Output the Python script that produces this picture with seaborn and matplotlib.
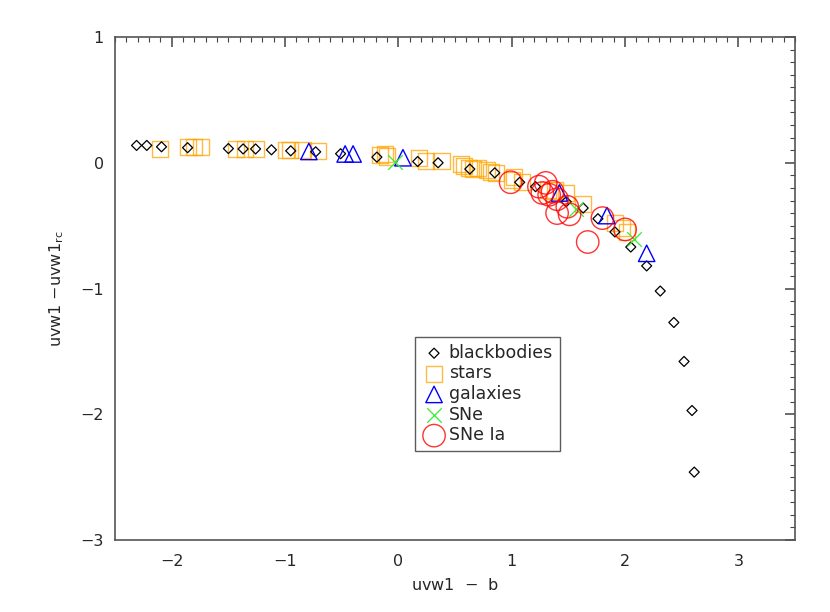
import numpy as np
import pandas as pd
import seaborn as sns
import matplotlib.pyplot as plt
from matplotlib.ticker import MultipleLocator

# Colour-colour data
bb_x = [-2.31, -2.22, -2.09, -1.86, -1.50, -1.37, -1.26, -1.12, -0.95, -0.73,
        -0.51, -0.19, 0.17, 0.35, 0.63, 0.85, 1.07, 1.21, 1.48, 1.63,
        1.76, 1.91, 2.05, 2.19, 2.31, 2.43, 2.52, 2.59, 2.61]
bb_y = [0.138, 0.138, 0.127, 0.12, 0.113, 0.11, 0.11, 0.103, 0.095, 0.087,
        0.072, 0.045, 0.01, 0.0, -0.05, -0.08, -0.155, -0.19, -0.31, -0.36,
        -0.445, -0.55, -0.67, -0.82, -1.02, -1.27, -1.58, -1.97, -2.46]

star_x = [-2.10, -1.86, -1.80, -1.74, -1.43, -1.35, -1.26, -0.99, -0.96, -0.84,
          -0.71, -0.16, -0.12, -0.10, 0.18, 0.24, 0.38, 0.55, 0.58, 0.62,
          0.66, 0.70, 0.78, 0.82, 0.86, 1.00, 1.02, 1.09, 1.32, 1.38,
          1.48, 1.63, 1.91, 1.97, 2.02]
star_y = [0.11, 0.127, 0.127, 0.127, 0.11, 0.11, 0.11, 0.103, 0.103, 0.103,
          0.095, 0.064, 0.072, 0.05, 0.04, 0.016, 0.016, -0.01, -0.024, -0.04,
          -0.05, -0.04, -0.056, -0.07, -0.08, -0.135, -0.11, -0.15, -0.215, -0.22,
          -0.24, -0.33, -0.48, -0.52, -0.55]

gal_x = [-0.79, -0.47, -0.40, 0.04, 1.42, 1.84, 2.19]
gal_y = [0.09, 0.07, 0.07, 0.04, -0.24, -0.42, -0.72]

sne_x = [-0.03, 1.57, 2.08]
sne_y = [0.01, -0.37, -0.61]

snia_x = [0.99, 1.24, 1.30, 1.27, 1.33, 1.36, 1.40, 1.40, 1.51, 1.49, 1.80, 2.00, 1.67]
snia_y = [-0.155, -0.19, -0.16, -0.24, -0.255, -0.23, -0.29, -0.40, -0.41, -0.35, -0.44, -0.53, -0.63]

sns.set_style("white")
plt.rcParams['font.family'] = ['DejaVu Sans']

fig = plt.figure(figsize=(8.3, 6.12), dpi=100)
ax = fig.add_axes([0.1386, 0.1176, 0.8194, 0.8219])

sns.scatterplot(x=bb_x, y=bb_y, marker="D", s=26, color="black",
                facecolor="none", edgecolor="black", linewidth=0.9,
                label="blackbodies", ax=ax, zorder=3)
sns.scatterplot(x=star_x, y=star_y, marker="s", s=135, color="orange",
                facecolor="none", edgecolor="orange", linewidth=1.0, alpha=0.75,
                label="stars", ax=ax, zorder=2)
sns.scatterplot(x=gal_x, y=gal_y, marker="^", s=140, color="blue",
                facecolor="none", edgecolor="blue", linewidth=1.0,
                label="galaxies", ax=ax, zorder=4)
sns.scatterplot(x=sne_x, y=sne_y, marker="x", s=110, color="#33ee33",
                linewidth=0.9, label="SNe", ax=ax, zorder=4)
sns.scatterplot(x=snia_x, y=snia_y, marker="o", s=260, color="red",
                facecolor="none", edgecolor="red", linewidth=1.0, alpha=0.8,
                label="SNe Ia", ax=ax, zorder=5)

ax.set_xlim(-2.5, 3.5)
ax.set_ylim(-3, 1)
ax.xaxis.set_major_locator(MultipleLocator(1))
ax.xaxis.set_minor_locator(MultipleLocator(0.1))
ax.yaxis.set_major_locator(MultipleLocator(1))
ax.yaxis.set_minor_locator(MultipleLocator(0.1))
ax.tick_params(which="both", direction="in", top=True, right=True,
               color="#444444", labelsize=11.5)
ax.tick_params(which="major", length=7, width=1.1)
ax.tick_params(which="minor", length=3.5, width=0.8)
ax.tick_params(axis="x", pad=10)
ax.tick_params(axis="y", pad=8)
for sp in ax.spines.values():
    sp.set_color("#555555")
    sp.set_linewidth(1.2)

ax.set_xlabel("uvw1  $-$  b", fontsize=11.5, labelpad=6)
ax.set_ylabel("uvw1 $-$uvw1$_{\\rm rc}$", fontsize=11.5, labelpad=10)

leg = ax.legend(loc="upper left", bbox_to_anchor=(0.441, 0.404),
                fontsize=12.5, frameon=True, fancybox=False, edgecolor="#333333",
                handletextpad=0.15, borderpad=0.4, labelspacing=0.15,
                handlelength=1.4, borderaxespad=0)
leg.get_frame().set_linewidth(1.0)

plt.savefig("out.png", dpi=100)
